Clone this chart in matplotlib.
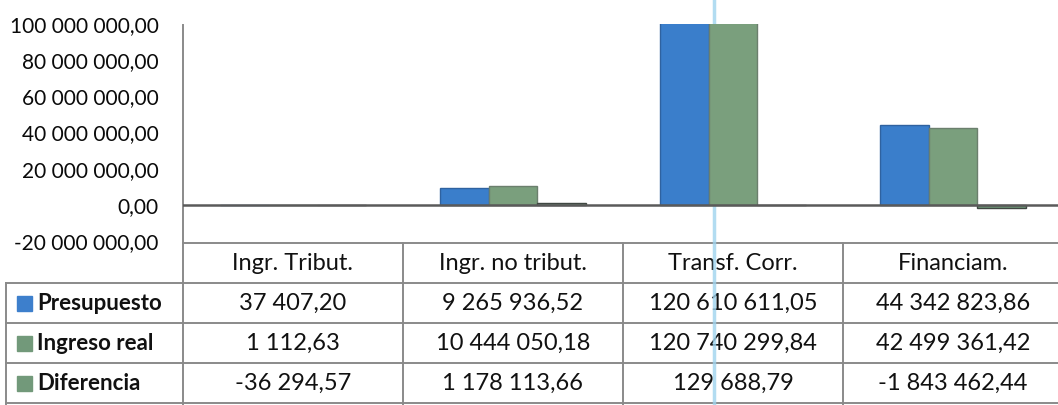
import matplotlib
matplotlib.use("Agg")
import matplotlib.pyplot as plt
from matplotlib.ticker import FuncFormatter, MultipleLocator
from matplotlib.patches import Rectangle
import numpy as np

plt.rcParams['font.family'] = ['Lato', 'DejaVu Sans']

categories = ["Ingr. Tribut.", "Ingr. no tribut.", "Transf. Corr.", "Financiam."]
series_names = ["Presupuesto", "Ingreso real", "Diferencia"]
presupuesto = [37407.20, 9265936.52, 120610611.05, 44342823.86]
ingreso_real = [1112.63, 10444050.18, 120740299.84, 42499361.42]
diferencia = [-36294.57, 1178113.66, 129688.79, -1843462.44]
series = [presupuesto, ingreso_real, diferencia]

fill_colors = ["#3a7ecb", "#7a9f7d", "#6f9878"]
edge_colors = ["#2f62a0", "#6b7f6d", "#3f4742"]
legend_colors = ["#3d7fcc", "#72997a", "#72997a"]


def fmt(v, pos=None):
    s = f"{v:,.2f}"
    return s.replace(",", " ").replace(".", ",")


W, H = 1058, 405
fig = plt.figure(figsize=(W / 100, H / 100), dpi=100)

# overlay axes in pixel coordinates for the data table
ov = fig.add_axes([0, 0, 1, 1])
ov.set_xlim(0, W)
ov.set_ylim(H, 0)
ov.axis('off')

# main chart axes
ax_left, ax_right, ax_top, ax_bottom = 183, W, 24, 241
ax = fig.add_axes([ax_left / W, (H - ax_bottom) / H,
                   (ax_right - ax_left) / W, (ax_bottom - ax_top) / H])
ax.patch.set_alpha(0)

col_w = 220
first_center = 293
ax.set_xlim((ax_left - first_center) / col_w, (ax_right - first_center) / col_w)
ax.set_ylim(-20e6, 100e6)

x = np.arange(len(categories))
bw = 0.222
for i, vals in enumerate(series):
    ax.bar(x + (i - 1) * bw, vals, width=bw, color=fill_colors[i],
           edgecolor=edge_colors[i], linewidth=1.0, zorder=3)

ax.axhline(0, color="#5a5a5a", lw=1.8, zorder=4)
ax.yaxis.set_major_locator(MultipleLocator(20e6))
ax.yaxis.set_major_formatter(FuncFormatter(fmt))
ax.tick_params(axis='y', length=0, pad=17.5, labelsize=15, labelcolor="#0a0a0a")
ax.set_xticks([])
for s in ['top', 'right', 'bottom', 'left']:
    ax.spines[s].set_visible(False)

# table grid
gc = "#8a8a8a"
glw = 1.4
ov.plot([183, 183], [25, H], color=gc, lw=glw)
ov.plot([183, W], [243, 243], color=gc, lw=glw)
for yy in [283, 323, 363, 403]:
    ov.plot([6, W], [yy, yy], color=gc, lw=glw)
ov.plot([6, 6], [283, H], color=gc, lw=glw)
for i in range(1, len(categories)):
    xx = 183 + col_w * i
    ov.plot([xx, xx], [243, H], color=gc, lw=glw)

header_y = 264
row_ys = [303, 343, 383]
tfs = 17
for i, c in enumerate(categories):
    cx = first_center + col_w * i
    ov.text(cx, header_y, c, ha='center', va='center', fontsize=tfs, color="#111111")
    for r, vals in enumerate(series):
        ov.text(cx, row_ys[r], fmt(vals[i]), ha='center', va='center',
                fontsize=tfs, color="#111111")

for r, name in enumerate(series_names):
    ov.add_patch(Rectangle((17, row_ys[r] - 7), 15, 15, color=legend_colors[r]))
    ov.text(37, row_ys[r], name, ha='left', va='center', fontsize=16,
            color="#111111", fontweight='bold')

# scan artifact line
ov.plot([714, 714], [0, H], color="#9fd4ee", lw=2.5, alpha=0.8, zorder=10)

fig.savefig("out.png", dpi=100)
